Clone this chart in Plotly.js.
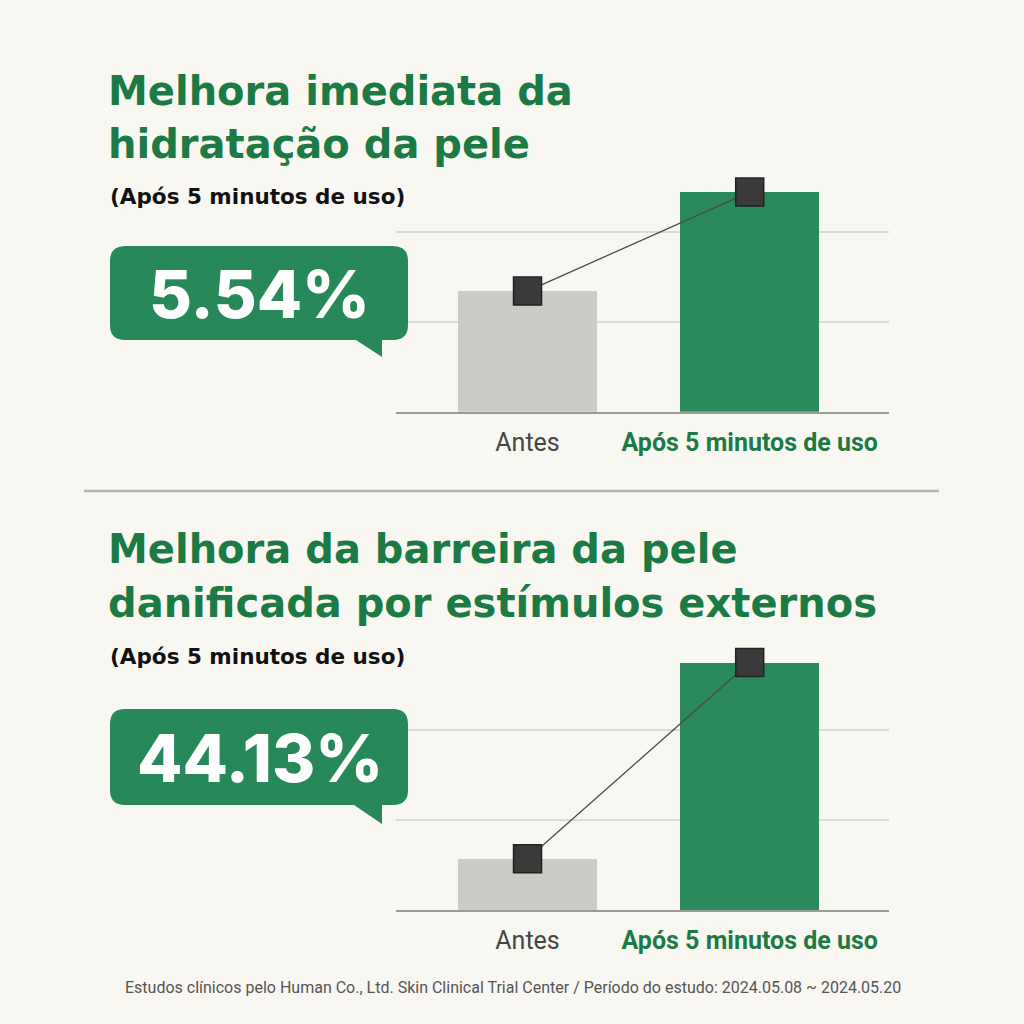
<!DOCTYPE html>
<html>
<head>
<meta charset="utf-8">
<script src="https://cdn.plot.ly/plotly-3.0.1.min.js"></script>
<style>
html,body{margin:0;padding:0;background:#f9f7f2;}
#chart{width:1024px;height:1024px;}
</style>
</head>
<body>
<div id="chart"></div>
<script>
// ---- data ----
const categories = ["Antes", "Após 5 minutos de uso"];
const hydrationValues = [1.34, 2.44];
const barrierValues = [0.57, 2.75];
const hydrationLabel = "5.54%";
const barrierLabel = "44.13%";
const title1Lines = ["Melhora imediata da", "hidratação da pele"];
const title2Lines = ["Melhora da barreira da pele", "danificada por estímulos externos"];
const subtitleText = "(Após 5 minutos de uso)";
const footerText = "Estudos clínicos pelo Human Co., Ltd. Skin Clinical Trial Center / Período do estudo: 2024.05.08 ~ 2024.05.20";

// ---- style ----
const BG = "#f9f7f2";
const GREEN_TITLE = "#1c7a45";
const GREEN_BAR = "#2b8a5c";
const GREEN_BUBBLE = "#27895a";
const GRAY_BAR = "#cccbc6";
const W = 1024, H = 1024;
const px = x => x / W;
const py = y => 1 - y / H;

function bubblePath(x0, y0, x1, y1, r, tl, tr, tipX, tipY) {
  const P = (x, y) => px(x).toFixed(5) + "," + py(y).toFixed(5);
  return "M" + P(x0 + r, y0) +
    " L" + P(x1 - r, y0) +
    " Q" + P(x1, y0) + " " + P(x1, y0 + r) +
    " L" + P(x1, y1 - r) +
    " Q" + P(x1, y1) + " " + P(x1 - r, y1) +
    " L" + P(tr, y1) +
    " L" + P(tipX, tipY) +
    " L" + P(tl, y1) +
    " L" + P(x0 + r, y1) +
    " Q" + P(x0, y1) + " " + P(x0, y1 - r) +
    " L" + P(x0, y0 + r) +
    " Q" + P(x0, y0) + " " + P(x0 + r, y0) + " Z";
}

const tickText = [
  "<span style='color:#454545'>" + categories[0] + "</span>",
  "<span style='color:#1c7a45'><b>" + categories[1] + "</b></span>"
];

function barTrace(vals, xa, ya) {
  return {
    type: "bar", x: categories, y: vals, xaxis: xa, yaxis: ya,
    width: 0.628,
    marker: {color: [GRAY_BAR, GREEN_BAR], line: {width: 0}},
    hoverinfo: "skip", showlegend: false
  };
}
function lineTrace(vals, xa, ya) {
  return {
    type: "scatter", mode: "lines+markers", x: categories, y: vals, xaxis: xa, yaxis: ya,
    line: {color: "#4a4a4a", width: 1.3},
    marker: {symbol: "square", size: 28, color: "#3a3a3a", line: {color: "#222", width: 1.5}},
    cliponaxis: false, hoverinfo: "skip", showlegend: false
  };
}

const xBase = {
  type: "category", range: [-0.592, 1.627], domain: [px(396), px(889)],
  showgrid: false, zeroline: false, showline: true, linecolor: "#9b9b9b", linewidth: 2,
  tickmode: "array", tickvals: categories, ticktext: tickText,
  ticks: "", ticklabelstandoff: 7,
  tickfont: {family: "Roboto, 'Open Sans', sans-serif", size: 25},
  fixedrange: true
};
const yBase = {
  range: [0, 3], dtick: 1, tick0: 0, showticklabels: false, ticks: "",
  showgrid: true, gridcolor: "#dcdad4", gridwidth: 2, zeroline: false, showline: false,
  fixedrange: true
};

const data = [
  barTrace(hydrationValues, "x", "y"),
  lineTrace(hydrationValues, "x", "y"),
  barTrace(barrierValues, "x2", "y2"),
  lineTrace(barrierValues, "x2", "y2")
];

const titleFont = {family: "'DejaVu Sans', Inter, sans-serif", size: 40, color: GREEN_TITLE, weight: 700};
const subFont = {family: "'DejaVu Sans', Inter, sans-serif", size: 21.5, color: "#111", weight: 700};
const bigFont = {family: "Inter, 'Open Sans', sans-serif", size: 66, color: "#ffffff", weight: 800};

function txt(text, x, y, font, xanchor) {
  return {text: text, x: px(x), y: py(y), xref: "paper", yref: "paper",
    xanchor: xanchor || "left", yanchor: "middle", showarrow: false, font: font};
}

const annotations = [
  txt(title1Lines[0], 106, 91, titleFont),
  txt(title1Lines[1], 106, 144, titleFont),
  txt(subtitleText, 108, 196, subFont),
  txt(hydrationLabel, 259, 294, bigFont, "center"),
  txt(title2Lines[0], 106, 549, titleFont),
  txt(title2Lines[1], 106, 603, titleFont),
  txt(subtitleText, 108, 656, subFont),
  txt(barrierLabel, 260, 758, bigFont, "center"),
  txt(footerText, 513, 987, {family: "Roboto, sans-serif", size: 16, color: "#555"}, "center")
];

const shapes = [
  {type: "path", xref: "paper", yref: "paper", layer: "above",
   path: bubblePath(110, 246, 408, 340, 15, 356, 382, 382, 357),
   fillcolor: GREEN_BUBBLE, line: {width: 0}},
  {type: "path", xref: "paper", yref: "paper", layer: "above",
   path: bubblePath(110, 709, 408, 805, 15, 354, 382, 382, 824),
   fillcolor: GREEN_BUBBLE, line: {width: 0}},
  {type: "line", xref: "paper", yref: "paper", x0: px(84), x1: px(939), y0: py(491), y1: py(491),
   line: {color: "#b5b4b0", width: 2.5}}
];

const layout = {
  width: W, height: H,
  margin: {l: 0, r: 0, t: 0, b: 0},
  paper_bgcolor: BG, plot_bgcolor: "rgba(0,0,0,0)",
  showlegend: false,
  bargap: 0,
  xaxis: Object.assign({}, xBase, {anchor: "y"}),
  yaxis: Object.assign({}, yBase, {domain: [py(411.7), py(141.7)], anchor: "x"}),
  xaxis2: Object.assign({}, xBase, {anchor: "y2"}),
  yaxis2: Object.assign({}, yBase, {domain: [py(910), py(640)], anchor: "x2"}),
  annotations: annotations,
  shapes: shapes
};

Plotly.newPlot("chart", data, layout, {displayModeBar: false, staticPlot: true});
</script>
</body>
</html>
